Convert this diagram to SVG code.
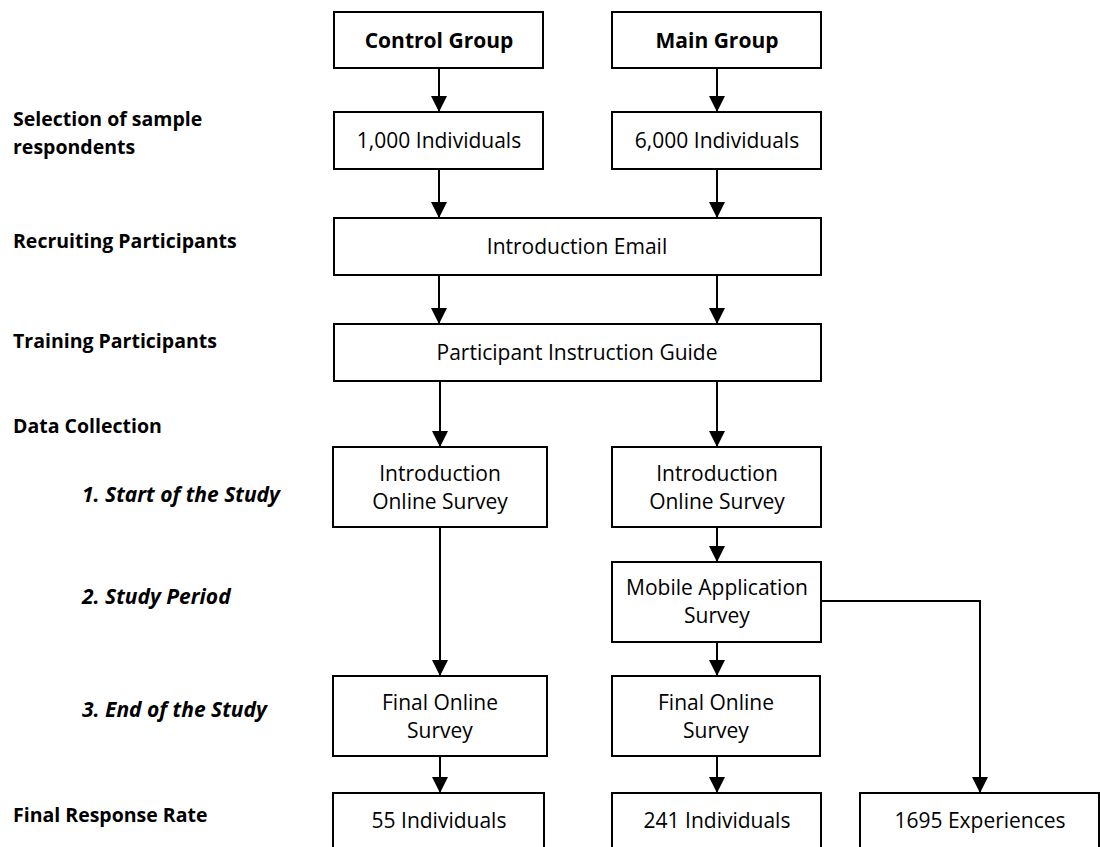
<svg xmlns="http://www.w3.org/2000/svg" width="1100" height="847" viewBox="0 0 1100 847">
  <style>
    .box { fill: #ffffff; stroke: #000000; stroke-width: 2; }
    .txt { font-family: "Open Sans", "Noto Sans", sans-serif; font-size: 21px; fill: #000000; text-anchor: middle; }
    .bold { font-weight: bold; }
    .stage { font-family: "Open Sans", "Noto Sans", sans-serif; font-size: 19.5px; font-weight: bold; fill: #000000; }
    .sub { font-style: italic; font-size: 21px; }
    .link { fill: none; stroke: #000000; stroke-width: 2; }
  </style>
  <defs>
    <marker id="arrow" markerUnits="userSpaceOnUse" markerWidth="16" markerHeight="16" viewBox="0 0 15 15" refX="15" refY="7.5" orient="auto">
      <path d="M0,0 L15,7.5 L0,15 z" fill="#000000"/>
    </marker>
  </defs>

  <rect width="1100" height="847" fill="#ffffff"/>

  <!-- stage labels on the left -->
  <g id="stages">
    <text class="stage" x="13" y="126">Selection of sample</text>
    <text class="stage" x="13" y="154">respondents</text>
    <text class="stage" x="13" y="248">Recruiting Participants</text>
    <text class="stage" x="13" y="348">Training Participants</text>
    <text class="stage" x="13" y="433">Data Collection</text>
    <text class="stage sub" x="82" y="502">1. Start of the Study</text>
    <text class="stage sub" x="82" y="604">2. Study Period</text>
    <text class="stage sub" x="82" y="717">3. End of the Study</text>
    <text class="stage" x="13" y="822">Final Response Rate</text>
  </g>

  <!-- connectors -->
  <g id="connectors">
    <path class="link" d="M439,68 V112" marker-end="url(#arrow)"/>
    <path class="link" d="M717,68 V112" marker-end="url(#arrow)"/>
    <path class="link" d="M439,169 V218" marker-end="url(#arrow)"/>
    <path class="link" d="M717,169 V218" marker-end="url(#arrow)"/>
    <path class="link" d="M439,275 V324" marker-end="url(#arrow)"/>
    <path class="link" d="M717,275 V324" marker-end="url(#arrow)"/>
    <path class="link" d="M440,381 V447" marker-end="url(#arrow)"/>
    <path class="link" d="M717,381 V447" marker-end="url(#arrow)"/>
    <path class="link" d="M717,527 V562" marker-end="url(#arrow)"/>
    <path class="link" d="M440,527 V676" marker-end="url(#arrow)"/>
    <path class="link" d="M717,642 V676" marker-end="url(#arrow)"/>
    <path class="link" d="M440,756 V793" marker-end="url(#arrow)"/>
    <path class="link" d="M717,756 V793" marker-end="url(#arrow)"/>
    <path class="link" d="M821,601 H980 V793" marker-end="url(#arrow)"/>
  </g>

  <!-- nodes -->
  <g id="control-group">
    <rect class="box" x="334" y="12" width="209" height="56"/>
    <text class="txt bold" x="439" y="48">Control Group</text>
  </g>
  <g id="main-group">
    <rect class="box" x="612" y="12" width="209" height="56"/>
    <text class="txt bold" x="717" y="48">Main Group</text>
  </g>
  <g id="control-sample">
    <rect class="box" x="334" y="112" width="209" height="57"/>
    <text class="txt" x="439" y="148">1,000 Individuals</text>
  </g>
  <g id="main-sample">
    <rect class="box" x="612" y="112" width="209" height="57"/>
    <text class="txt" x="717" y="148">6,000 Individuals</text>
  </g>
  <g id="intro-email">
    <rect class="box" x="334" y="218" width="487" height="57"/>
    <text class="txt" x="577" y="254">Introduction Email</text>
  </g>
  <g id="instruction-guide">
    <rect class="box" x="334" y="324" width="487" height="57"/>
    <text class="txt" x="577" y="360">Participant Instruction Guide</text>
  </g>
  <g id="control-intro-survey">
    <rect class="box" x="333" y="447" width="214" height="80"/>
    <text class="txt" x="440" y="481">Introduction</text>
    <text class="txt" x="440" y="509">Online Survey</text>
  </g>
  <g id="main-intro-survey">
    <rect class="box" x="612" y="447" width="209" height="80"/>
    <text class="txt" x="717" y="481">Introduction</text>
    <text class="txt" x="717" y="509">Online Survey</text>
  </g>
  <g id="mobile-survey">
    <rect class="box" x="612" y="562" width="209" height="80"/>
    <text class="txt" x="717" y="595">Mobile Application</text>
    <text class="txt" x="717" y="623">Survey</text>
  </g>
  <g id="control-final-survey">
    <rect class="box" x="333" y="676" width="214" height="80"/>
    <text class="txt" x="440" y="710">Final Online</text>
    <text class="txt" x="440" y="738">Survey</text>
  </g>
  <g id="main-final-survey">
    <rect class="box" x="612" y="676" width="208" height="80"/>
    <text class="txt" x="716" y="710">Final Online</text>
    <text class="txt" x="716" y="738">Survey</text>
  </g>
  <g id="control-result">
    <rect class="box" x="333" y="793" width="211" height="62"/>
    <text class="txt" x="439" y="828">55 Individuals</text>
  </g>
  <g id="main-result">
    <rect class="box" x="612" y="793" width="209" height="62"/>
    <text class="txt" x="717" y="828">241 Individuals</text>
  </g>
  <g id="experiences-result">
    <rect class="box" x="860" y="793" width="239" height="62"/>
    <text class="txt" x="980" y="828">1695 Experiences</text>
  </g>
</svg>
